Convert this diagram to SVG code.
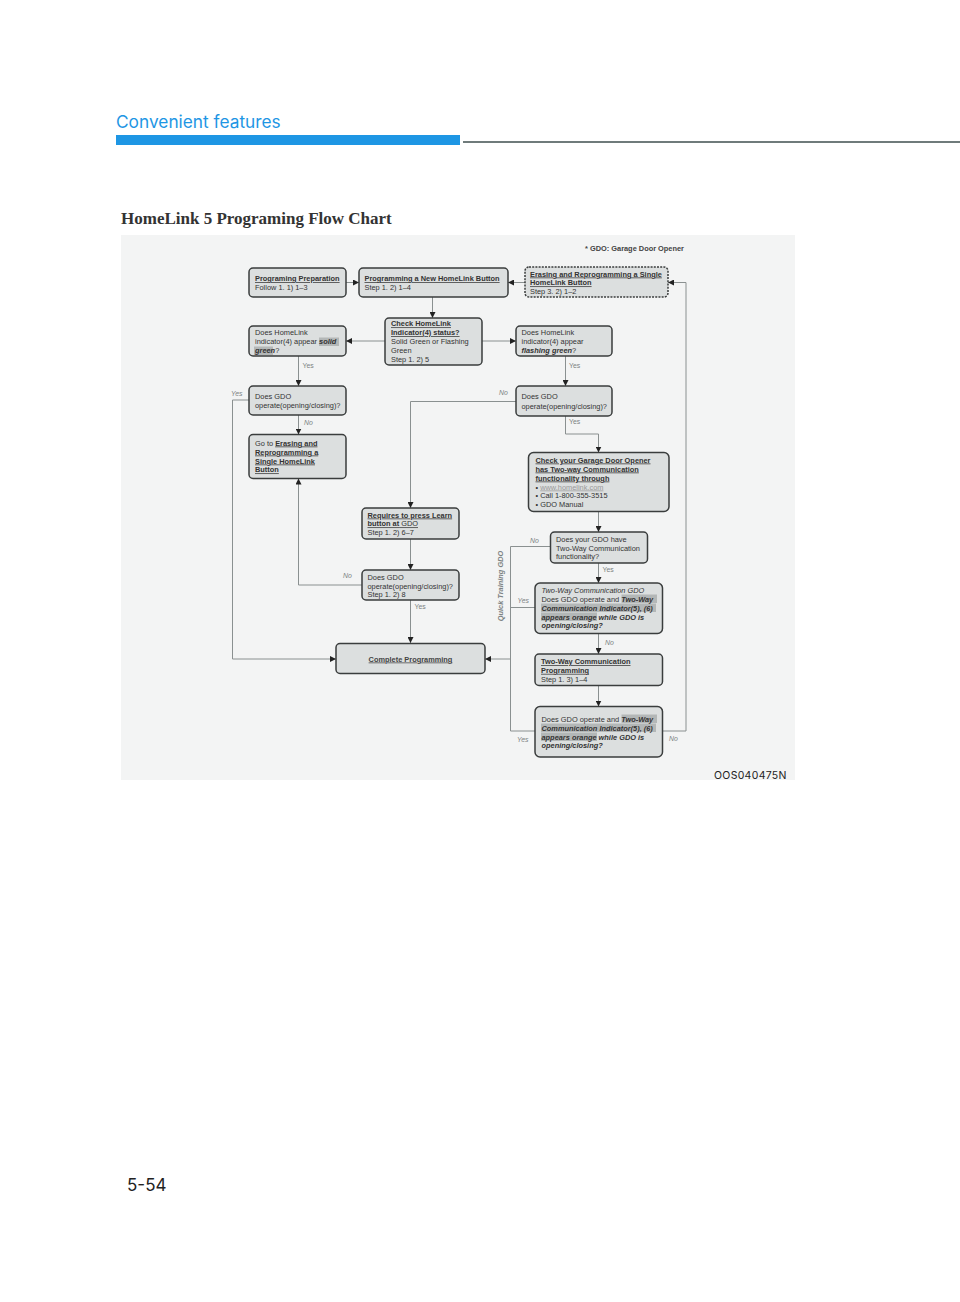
<svg xmlns="http://www.w3.org/2000/svg" width="960" height="1302" viewBox="0 0 960 1302">
<style>
.box{fill:#dcdfdf;stroke:#3a3d3d;stroke-width:1.5}
.dash{stroke-dasharray:2 1.2}
.t{font-family:"Liberation Sans",Arial,sans-serif;font-size:7.4px;fill:#333}
.b{font-weight:bold}
.u{text-decoration:underline}
.bi{font-weight:bold;font-style:italic}
.lbl{font-family:"Liberation Sans",Arial,sans-serif;font-size:6.9px;fill:#7d8383;font-style:italic}
.ln{fill:none;stroke:#8a9090;stroke-width:1}
.hl{fill:#b3b7b7}
</style>
<defs>
<marker id="ah" viewBox="0 0 6 6" refX="6" refY="3" markerWidth="6" markerHeight="6" markerUnits="userSpaceOnUse" orient="auto">
<path d="M0,0 L6,3 L0,6 z" fill="#222"/>
</marker>
</defs>
<rect width="960" height="1302" fill="#fff"/>
<text x="116" y="128" font-family="Inter,'Liberation Sans',sans-serif" font-size="17.3" fill="#1e96e4">Convenient features</text>
<rect x="116" y="135" width="344" height="10" fill="#1e96e4"/>
<rect x="463" y="141" width="497" height="2" fill="#6f7b7b"/>
<text x="121" y="224" font-family="'Liberation Serif',serif" font-size="17" font-weight="bold" fill="#333">HomeLink 5 Programing Flow Chart</text>
<rect x="121" y="235" width="674" height="545" fill="#f3f4f4"/>
<text x="585" y="251" font-family="'Liberation Sans',Arial,sans-serif" font-size="7.4" font-weight="bold" fill="#444">* GDO: Garage Door Opener</text>

<g id="connectors">
<path class="ln" d="M346,282.5 H359" marker-end="url(#ah)"/>
<path class="ln" d="M525,282.5 H508" marker-end="url(#ah)"/>
<path class="ln" d="M432.5,297 V318" marker-end="url(#ah)"/>
<path class="ln" d="M385,341 H346" marker-end="url(#ah)"/>
<path class="ln" d="M482,341 H516" marker-end="url(#ah)"/>
<path class="ln" d="M298.5,356 V386" marker-end="url(#ah)"/>
<path class="ln" d="M298.5,415 V434.5" marker-end="url(#ah)"/>
<path class="ln" d="M249,400 H232.5 V659 H336" marker-end="url(#ah)"/>
<path class="ln" d="M565.5,356 V386" marker-end="url(#ah)"/>
<path class="ln" d="M516,401.5 H410.5 V508" marker-end="url(#ah)"/>
<path class="ln" d="M565.5,416 V434 H598.5 V452.5" marker-end="url(#ah)"/>
<path class="ln" d="M598.5,511.5 V532" marker-end="url(#ah)"/>
<path class="ln" d="M410.5,539 V570" marker-end="url(#ah)"/>
<path class="ln" d="M362,585 H298.5 V478.5" marker-end="url(#ah)"/>
<path class="ln" d="M410.5,600 V643" marker-end="url(#ah)"/>
<path class="ln" d="M551,546.5 H510.5 V731 H535"/>
<path class="ln" d="M535,607.5 H510.5"/>
<path class="ln" d="M510.5,659 H485" marker-end="url(#ah)"/>
<path class="ln" d="M598.5,563 V583" marker-end="url(#ah)"/>
<path class="ln" d="M598.5,633.5 V654" marker-end="url(#ah)"/>
<path class="ln" d="M598.5,685.5 V706.5" marker-end="url(#ah)"/>
<path class="ln" d="M662,731 H686 V282.5 H668" marker-end="url(#ah)"/>
<text class="lbl" x="231" y="396">Yes</text>
<text class="lbl" x="302.5" y="368" style="font-style:normal">Yes</text>
<text class="lbl" x="304" y="425">No</text>
<text class="lbl" x="499" y="395">No</text>
<text class="lbl" x="569" y="368" style="font-style:normal">Yes</text>
<text class="lbl" x="569" y="424" style="font-style:normal">Yes</text>
<text class="lbl" x="343" y="578">No</text>
<text class="lbl" x="414.5" y="609" style="font-style:normal">Yes</text>
<text class="lbl" x="530" y="542.5">No</text>
<text class="lbl" x="602.5" y="571.5" style="font-style:normal">Yes</text>
<text class="lbl" x="517.5" y="602.5">Yes</text>
<text class="lbl" x="605" y="644.5">No</text>
<text class="lbl" x="517" y="741.5">Yes</text>
<text class="lbl" x="669" y="740.5">No</text>
<text class="lbl" transform="translate(502.5,586) rotate(-90)" text-anchor="middle" style="font-weight:bold;font-size:7.4px">Quick Training GDO</text>
</g>

<g id="n1">
<rect class="box" x="249" y="268" width="97" height="29" rx="4"/>
<text class="t b u" x="255" y="281">Programing Preparation</text>
<text class="t" x="255" y="289.8">Follow 1. 1) 1–3</text>
</g>
<g id="n2">
<rect class="box" x="359" y="268" width="149" height="29" rx="4"/>
<text class="t b u" x="364.5" y="281">Programming a New HomeLink Button</text>
<text class="t" x="364.5" y="289.8">Step 1. 2) 1–4</text>
</g>
<g id="n3">
<rect class="box dash" x="525" y="267" width="143" height="30" rx="4"/>
<text class="t b u" x="530" y="276.5">Erasing and Reprogramming a Single</text>
<text class="t b u" x="530" y="285.3">HomeLink Button</text>
<text class="t" x="530" y="294">Step 3. 2) 1–2</text>
</g>
<g id="n4">
<rect class="box" x="249" y="326" width="97" height="30" rx="4"/>
<rect class="hl" x="319" y="337.5" width="20" height="8.5"/>
<rect class="hl" x="254" y="346.5" width="19" height="8.5"/>
<text class="t" x="255" y="334.5">Does HomeLink</text>
<text class="t" x="255" y="343.5">indicator(4) appear <tspan class="bi">solid</tspan></text>
<text class="t" x="255" y="352.5"><tspan class="bi">green</tspan>?</text>
</g>
<g id="n5">
<rect class="box" x="385" y="318" width="97" height="47" rx="4"/>
<text class="t b u" x="391" y="326.3">Check HomeLink</text>
<text class="t b u" x="391" y="335.2">Indicator(4) status?</text>
<text class="t" x="391" y="344.2">Solid Green or Flashing</text>
<text class="t" x="391" y="353">Green</text>
<text class="t" x="391" y="361.8">Step 1. 2) 5</text>
</g>
<g id="n6">
<rect class="box" x="516" y="326" width="96" height="30" rx="4"/>
<text class="t" x="521.5" y="334.5">Does HomeLink</text>
<text class="t" x="521.5" y="343.5">indicator(4) appear</text>
<text class="t" x="521.5" y="352.5"><tspan class="bi">flashing green</tspan>?</text>
</g>
<g id="n7">
<rect class="box" x="249" y="386" width="97" height="29" rx="4"/>
<text class="t" x="255" y="398.8">Does GDO</text>
<text class="t" x="255" y="408.3">operate(opening/closing)?</text>
</g>
<g id="n8">
<rect class="box" x="516" y="386" width="96" height="30" rx="4"/>
<text class="t" x="521.5" y="399.3">Does GDO</text>
<text class="t" x="521.5" y="408.8">operate(opening/closing)?</text>
</g>
<g id="n9">
<rect class="box" x="249" y="434.5" width="97" height="44" rx="4"/>
<text class="t" x="255" y="445.5">Go to <tspan class="b u">Erasing and</tspan></text>
<text class="t b u" x="255" y="454.5">Reprogramming a</text>
<text class="t b u" x="255" y="463.5">Single HomeLink</text>
<text class="t b u" x="255" y="472.3">Button</text>
</g>
<g id="n10">
<rect class="box" x="528.5" y="452.5" width="140.5" height="59" rx="5"/>
<text class="t b u" x="535.5" y="462.5">Check your Garage Door Opener</text>
<text class="t b u" x="535.5" y="471.5">has Two-way Communication</text>
<text class="t b u" x="535.5" y="480.5">functionality through</text>
<text class="t" x="535.5" y="489.5">•  <tspan fill="#999" text-decoration="underline">www.homelink.com</tspan></text>
<text class="t" x="535.5" y="498.3">•  Call 1-800-355-3515</text>
<text class="t" x="535.5" y="507.2">•  GDO Manual</text>
</g>
<g id="n11">
<rect class="box" x="362" y="508" width="97" height="31" rx="4"/>
<text class="t b u" x="367.5" y="517.5">Requires to press Learn</text>
<text class="t" x="367.5" y="526.3"><tspan class="b u">button at</tspan><tspan class="u"> GDO</tspan></text>
<text class="t" x="367.5" y="535.2">Step 1. 2) 6–7</text>
</g>
<g id="n12">
<rect class="box" x="362" y="570" width="97" height="30" rx="4"/>
<text class="t" x="367.5" y="579.5">Does GDO</text>
<text class="t" x="367.5" y="588.5">operate(opening/closing)?</text>
<text class="t" x="367.5" y="597.3">Step 1. 2) 8</text>
</g>
<g id="n13">
<rect class="box" x="550.5" y="532" width="97" height="31" rx="4"/>
<text class="t" x="556" y="541.5">Does your GDO have</text>
<text class="t" x="556" y="550.5">Two-Way Communication</text>
<text class="t" x="556" y="559.3">functionality?</text>
</g>
<g id="n14">
<rect class="box" x="535" y="583" width="127.5" height="50.5" rx="5"/>
<rect class="hl" x="621.5" y="594.5" width="35.5" height="8.5"/>
<rect class="hl" x="541" y="603.5" width="115" height="8.5"/>
<rect class="hl" x="541" y="612.5" width="56" height="8.5"/>
<text class="t" x="541.5" y="592.5" fill="#8a8f8f" style="font-style:italic">Two-Way Communication GDO</text>
<text class="t" x="541.5" y="601.5">Does GDO operate and <tspan class="bi">Two-Way</tspan></text>
<text class="t bi" x="541.5" y="610.5">Communication Indicator(5), (6)</text>
<text class="t bi" x="541.5" y="619.5">appears orange while GDO is</text>
<text class="t bi" x="541.5" y="628.2">opening/closing?</text>
</g>
<g id="n15">
<rect class="box" x="336" y="643.5" width="149" height="30" rx="4"/>
<text class="t u" x="410.5" y="661.5" text-anchor="middle" style="font-weight:bold;fill:#444">Complete Programming</text>
</g>
<g id="n16">
<rect class="box" x="535" y="654" width="127.5" height="31.5" rx="4"/>
<text class="t b u" x="541" y="664">Two-Way Communication</text>
<text class="t b u" x="541" y="672.8">Programming</text>
<text class="t" x="541" y="681.5">Step 1. 3) 1–4</text>
</g>
<g id="n17">
<rect class="box" x="535" y="706.5" width="127.5" height="50.5" rx="5"/>
<rect class="hl" x="621.5" y="714.5" width="35.5" height="8.5"/>
<rect class="hl" x="541" y="723.5" width="115" height="8.5"/>
<rect class="hl" x="541" y="732.5" width="56" height="8.5"/>
<text class="t" x="541.5" y="721.5">Does GDO operate and <tspan class="bi">Two-Way</tspan></text>
<text class="t bi" x="541.5" y="730.5">Communication Indicator(5), (6)</text>
<text class="t bi" x="541.5" y="739.5">appears orange while GDO is</text>
<text class="t bi" x="541.5" y="748.3">opening/closing?</text>
</g>

<text x="714" y="779" font-family="Inter,'Liberation Sans',sans-serif" font-size="10.5" fill="#222" letter-spacing="0.3">OOS040475N</text>
<text x="127" y="1191" font-family="Inter,'Liberation Sans',sans-serif" font-size="17" fill="#222">5-54</text>
</svg>
